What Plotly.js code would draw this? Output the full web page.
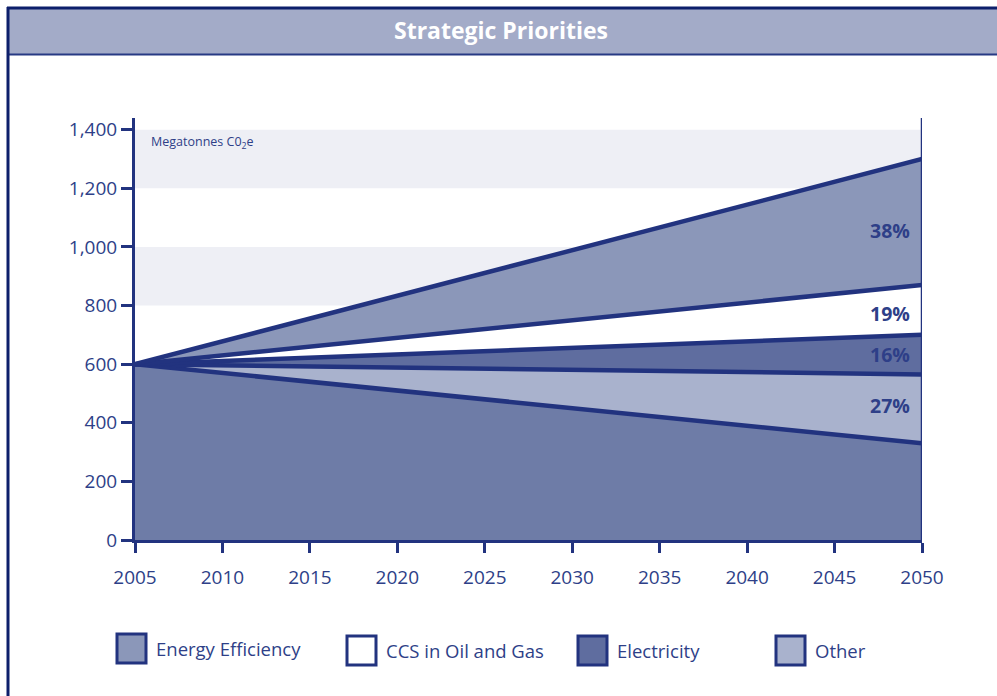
<!DOCTYPE html>
<html>
<head>
<meta charset="utf-8">
<script src="https://cdn.plot.ly/plotly-3.0.1.min.js"></script>
<style>
html,body{margin:0;padding:0;background:#fff;}
#chart{width:997px;height:696px;}
</style>
</head>
<body>
<div id="chart"></div>
<script>
// Data
const years = [2005, 2050];
const bottomLine = [600, 330];      // lower edge of "Other"
const otherTop = [600, 565];        // Other band top
const electricityTop = [600, 700];  // Electricity band top
const ccsTop = [600, 870];          // CCS band top
const efficiencyTop = [600, 1300];  // Energy Efficiency band top

const seriesNames = ["Other", "Electricity", "CCS in Oil and Gas", "Energy Efficiency"];
const shareLabels = ["38%", "19%", "16%", "27%"];
const shareLabelY = [1055, 772, 632, 458];
const yTicks = [0, 200, 400, 600, 800, 1000, 1200, 1400];
const xTicks = [2005, 2010, 2015, 2020, 2025, 2030, 2035, 2040, 2045, 2050];

const navy = '#22337f';
const txt = '#2e3f88';
const font = 'Open Sans, Noto Sans, sans-serif';

function tr(y, fill, fillcolor, name) {
  return {x: years, y: y, type: 'scatter', mode: 'lines', name: name,
    line: {color: navy, width: 4.5}, fill: fill, fillcolor: fillcolor,
    showlegend: false, hoverinfo: 'skip'};
}

const traces = [
  tr(bottomLine, 'tozeroy', '#6e7ca7', 'Baseline'),
  tr(otherTop, 'tonexty', '#a9b2cd', seriesNames[0]),
  tr(electricityTop, 'tonexty', '#5f6d9f', seriesNames[1]),
  tr(ccsTop, 'tonexty', '#ffffff', seriesNames[2]),
  tr(efficiencyTop, 'tonexty', '#8b97b9', seriesNames[3])
];

const shapes = [
  {type:'rect', xref:'x', yref:'y', x0:2005, x1:2050, y0:1200, y1:1400, fillcolor:'#eeeff5', line:{width:0}, layer:'below'},
  {type:'rect', xref:'x', yref:'y', x0:2005, x1:2050, y0:800, y1:1000, fillcolor:'#eeeff5', line:{width:0}, layer:'below'},
  {type:'line', xref:'x', yref:'paper', x0:2050, x1:2050, y0:0, y1:1, line:{color:navy, width:2.5}}
];

const W = 997, H = 696, mL = 135, mR = 75, mT = 118, mB = 156;
const pw = W - mL - mR, ph = H - mT - mB;
const px = v => (v - mL) / pw;
const py = v => (H - mB - v) / ph;

shapes.push({type:'rect', xref:'paper', yref:'paper', x0:px(8), x1:px(1000), y0:py(54), y1:py(8.5), fillcolor:'#a3abc8', line:{width:0}, layer:'below'});
shapes.push({type:'line', xref:'paper', yref:'paper', x0:px(7), x1:px(1000), y0:py(8), y1:py(8), line:{color:'#0d1f6b', width:3}});
shapes.push({type:'line', xref:'paper', yref:'paper', x0:px(7), x1:px(1000), y0:py(54.5), y1:py(54.5), line:{color:'#283a84', width:2}});
shapes.push({type:'line', xref:'paper', yref:'paper', x0:px(8), x1:px(8), y0:py(7), y1:py(700), line:{color:'#0d1f6b', width:3}});

const legendItems = [
  {name:'Energy Efficiency', color:'#8b97b9', bx:117, by:634},
  {name:'CCS in Oil and Gas', color:'#ffffff', bx:347, by:636},
  {name:'Electricity', color:'#5f6d9f', bx:578, by:636},
  {name:'Other', color:'#a9b2cd', bx:776, by:636}
];
const annotations = [];
legendItems.forEach(it => {
  shapes.push({type:'rect', xref:'paper', yref:'paper', x0:px(it.bx), x1:px(it.bx+29), y0:py(it.by+29), y1:py(it.by),
    fillcolor: it.color, line:{color:navy, width:3}});
  annotations.push({xref:'paper', yref:'paper', x:px(it.bx+37), y:py(it.by+14), xanchor:'left', yanchor:'middle',
    text: it.name, showarrow:false, font:{family:font, size:18.5, color:txt}});
});

shareLabels.forEach((t, i) => {
  annotations.push({xref:'x', yref:'y', x:2050, y:shareLabelY[i], xanchor:'right', yanchor:'middle', xshift:-10,
    text:'<b>'+t+'</b>', showarrow:false, font:{family:font, size:19.5, color:txt}});
});
annotations.push({xref:'paper', yref:'y', x:px(149), y:1400, xanchor:'left', yanchor:'top', yshift:-1,
  text:'Megatonnes C0<sub>2</sub>e', showarrow:false, font:{family:font, size:12.5, color:txt}});

const layout = {
  width: W, height: H,
  margin: {l: mL, r: mR, t: mT, b: mB},
  paper_bgcolor: '#ffffff', plot_bgcolor: '#ffffff',
  title: {text: '<b>Strategic Priorities</b>', x: 501/W, xref:'container', xanchor:'center', y: 1 - 31/H, yref:'container', yanchor:'middle',
    font: {family: font, size: 23, color: '#ffffff'}},
  xaxis: {range: [2005, 2050], tickvals: xTicks, ticks: 'outside', ticklen: 10, tickwidth: 3, tickcolor: navy,
    showline: true, linecolor: navy, linewidth: 3, showgrid: false, zeroline: false,
    ticklabelstandoff: 8, tickfont: {family: font, size: 19, color: txt}, fixedrange: true},
  yaxis: {range: [0, 1440], tickvals: yTicks, tickformat: ',', ticks: 'outside', ticklen: 11, tickwidth: 3, tickcolor: navy,
    showline: true, linecolor: navy, linewidth: 3, showgrid: false, zeroline: false,
    ticklabelstandoff: 0, tickfont: {family: font, size: 19, color: txt}, fixedrange: true},
  shapes: shapes,
  annotations: annotations,
  showlegend: false
};

Plotly.newPlot('chart', traces, layout, {displayModeBar: false, staticPlot: true});
</script>
</body>
</html>
